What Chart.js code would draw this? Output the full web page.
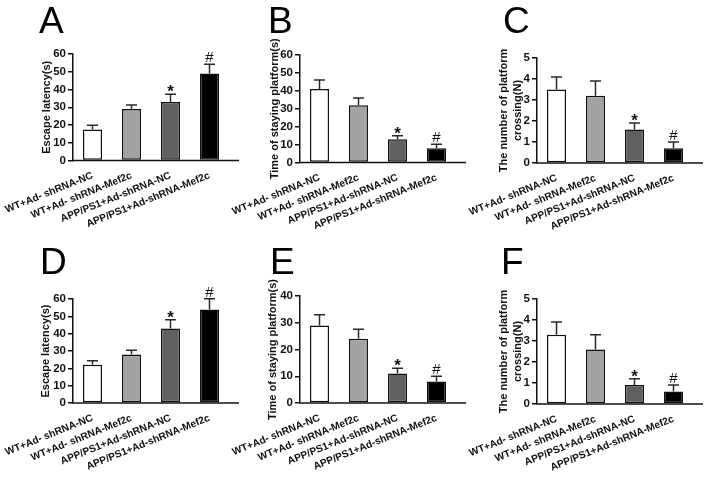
<!DOCTYPE html>
<html>
<head>
<meta charset="utf-8">
<script src="https://cdn.jsdelivr.net/npm/chart.js@4/dist/chart.umd.min.js"></script>
<style>
  body { margin: 0; background: #fff; }
  #fig { position: relative; width: 708px; height: 483px; overflow: hidden; }
  .panel { position: absolute; width: 240px; height: 241px; }
  .letter { position: absolute; font: 37px "Liberation Sans", Arial, sans-serif; line-height: 1; color: #000; }
</style>
</head>
<body>
<div id="fig"></div>
<script>
const groups = ["WT+Ad- shRNA-NC", "WT+Ad- shRNA-Mef2c", "APP/PS1+Ad-shRNA-NC", "APP/PS1+Ad-shRNA-Mef2c"];
const marks = ["", "", "*", "#"];

// 6 months
const escape6 = [17.5, 29, 33, 49];
const escape6Err = [2.3, 2.2, 4.3, 5.2];
const staying6 = [41, 32, 13, 8];
const staying6Err = [5, 4, 2, 2.2];
const crossing6 = [3.5, 3.2, 1.6, 0.7];
const crossing6Err = [0.6, 0.7, 0.3, 0.3];

// 10 months
const escape10 = [22, 28, 43, 54];
const escape10Err = [2.4, 2.4, 5, 6.2];
const staying10 = [29, 24, 11, 8];
const staying10Err = [4, 3.6, 2, 2];
const crossing10 = [3.3, 2.6, 0.9, 0.6];
const crossing10Err = [0.6, 0.7, 0.3, 0.3];

const escapeTicks = [0, 60, 10];
const staying6Ticks = [0, 60, 10];
const staying10Ticks = [0, 40, 10];
const crossingTicks = [0, 5, 1];

const barColors = ["#ffffff", "#a3a3a6", "#606060", "#000000"];
const FONT = '"Liberation Sans", Arial, sans-serif';

const panels = [
    { letter: "A", left: 0, top: 0, lx: 39, ly: 2, values: escape6, errors: escape6Err, ticks: escapeTicks,
      title: "Escape latency(s)", note: "6 months", chartTop: 54, chartBottom: 160.5, titleX: 47, noteX: 62, noteY: 1 },
    { letter: "B", left: 227, top: 0, lx: 268, ly: 2, values: staying6, errors: staying6Err, ticks: staying6Ticks,
      title: "Time of staying platform(s)", note: "6 months", chartTop: 55, chartBottom: 162.5, titleX: 48, noteX: 73, noteY: 8 },
    { letter: "C", left: 464, top: 0, lx: 503, ly: 2, values: crossing6, errors: crossing6Err, ticks: crossingTicks,
      title: ["The number of platform", "crossing(N)"], note: "6 months", chartTop: 58, chartBottom: 163, titleX: 40, noteX: 60, noteY: 6 },
    { letter: "D", left: 0, top: 241, lx: 40, ly: 243, values: escape10, errors: escape10Err, ticks: escapeTicks,
      title: "Escape latency(s)", note: "10 months", chartTop: 58, chartBottom: 162, titleX: 46, noteX: 58, noteY: -1 },
    { letter: "E", left: 227, top: 241, lx: 270, ly: 243, values: staying10, errors: staying10Err, ticks: staying10Ticks,
      title: "Time of staying platform(s)", note: "10 months", chartTop: 55, chartBottom: 162, titleX: 46, noteX: 73, noteY: 8 },
    { letter: "F", left: 464, top: 241, lx: 501, ly: 243, values: crossing10, errors: crossing10Err, ticks: crossingTicks,
      title: ["The number of platform", "crossing(N)"], note: "10 months", chartTop: 58, chartBottom: 163, titleX: 40, noteX: 69, noteY: 5 }
];

// error bars, significance marks, x axis line and the "n months" note
const extras = {
    id: "extras",
    afterDatasetsDraw(chart, args, opts) {
        const { ctx, chartArea } = chart;
        const y = chart.scales.y;
        const values = chart.data.datasets[0].data;
        ctx.save();
        ctx.strokeStyle = "#2a2a2a";
        ctx.lineWidth = 1.5;
        chart.getDatasetMeta(0).data.forEach((bar, i) => {
            const top = y.getPixelForValue(values[i] + opts.errors[i]);
            ctx.beginPath();
            ctx.moveTo(bar.x, bar.y);
            ctx.lineTo(bar.x, top);
            ctx.moveTo(bar.x - 5.5, top);
            ctx.lineTo(bar.x + 5.5, top);
            ctx.stroke();
            if (marks[i]) {
                ctx.fillStyle = "#111";
                ctx.textAlign = "center";
                ctx.textBaseline = "alphabetic";
                if (marks[i] === "*") {
                    ctx.font = "bold 17px " + FONT;
                    ctx.fillText("*", bar.x, top + 3);
                } else {
                    ctx.font = "15px " + FONT;
                    ctx.fillText("#", bar.x, top - 2);
                }
            }
        });
        ctx.strokeStyle = "#111";
        ctx.beginPath();
        ctx.moveTo(chartArea.left - 0.75, chartArea.bottom);
        ctx.lineTo(chartArea.right + 10, chartArea.bottom);
        ctx.stroke();
        ctx.fillStyle = "#222";
        ctx.font = "11px " + FONT;
        ctx.textAlign = "center";
        ctx.textBaseline = "middle";
        ctx.fillText(opts.note, chartArea.left + opts.noteX, chartArea.top + opts.noteY);
        ctx.restore();
    }
};

const fig = document.getElementById("fig");

panels.forEach((p) => {
    const box = document.createElement("div");
    box.className = "panel";
    box.style.left = p.left + "px";
    box.style.top = p.top + "px";
    const canvas = document.createElement("canvas");
    canvas.width = 240;
    canvas.height = 241;
    box.appendChild(canvas);
    fig.appendChild(box);

    const letter = document.createElement("div");
    letter.className = "letter";
    letter.textContent = p.letter;
    letter.style.left = p.lx + "px";
    letter.style.top = p.ly + "px";
    fig.appendChild(letter);

    new Chart(canvas, {
        type: "bar",
        data: {
            labels: groups,
            datasets: [
                {
                    data: p.values,
                    backgroundColor: barColors,
                    borderColor: "#111",
                    borderWidth: 1.5,
                    borderSkipped: false,
                    categoryPercentage: 1,
                    barPercentage: 0.49,
                },
            ],
        },
        options: {
            responsive: false,
            animation: false,
            events: [],
            layout: { padding: { top: p.chartTop, right: 11, bottom: 0, left: 0 } },
            plugins: {
                legend: { display: false },
                tooltip: { enabled: false },
                extras: { errors: p.errors, note: p.note },
            },
            scales: {
                x: {
                    grid: { display: false, drawTicks: false },
                    border: { display: false },
                    ticks: {
                        minRotation: 22,
                        maxRotation: 22,
                        autoSkip: false,
                        padding: 9,
                        color: "#111",
                        font: { family: FONT, size: 10.2, weight: "bold" },
                    },
                    afterFit(scale) {
                        scale.height = 241 - p.chartBottom;
                        // keep the plot area where it is even if a label overhangs
                        scale.paddingLeft = 0;
                        scale.paddingRight = 0;
                    },
                },
                y: {
                    min: p.ticks[0],
                    max: p.ticks[1],
                    ticks: {
                        stepSize: p.ticks[2],
                        padding: 2,
                        color: "#111",
                        font: { family: FONT, size: 11.5, weight: "bold" },
                    },
                    grid: { drawOnChartArea: false, tickLength: 5, color: "#111", lineWidth: 1.5 },
                    border: { color: "#111", width: 1.5 },
                    title: {
                        display: true,
                        text: p.title,
                        color: "#111",
                        font: { family: FONT, size: 11, weight: "bold", lineHeight: 1.3 },
                        padding: { top: p.titleX - 7.2, bottom: 0 },
                    },
                    afterFit(scale) {
                        scale.width = 73;
                    },
                },
            },
        },
        plugins: [extras],
    });
});
</script>
</body>
</html>
